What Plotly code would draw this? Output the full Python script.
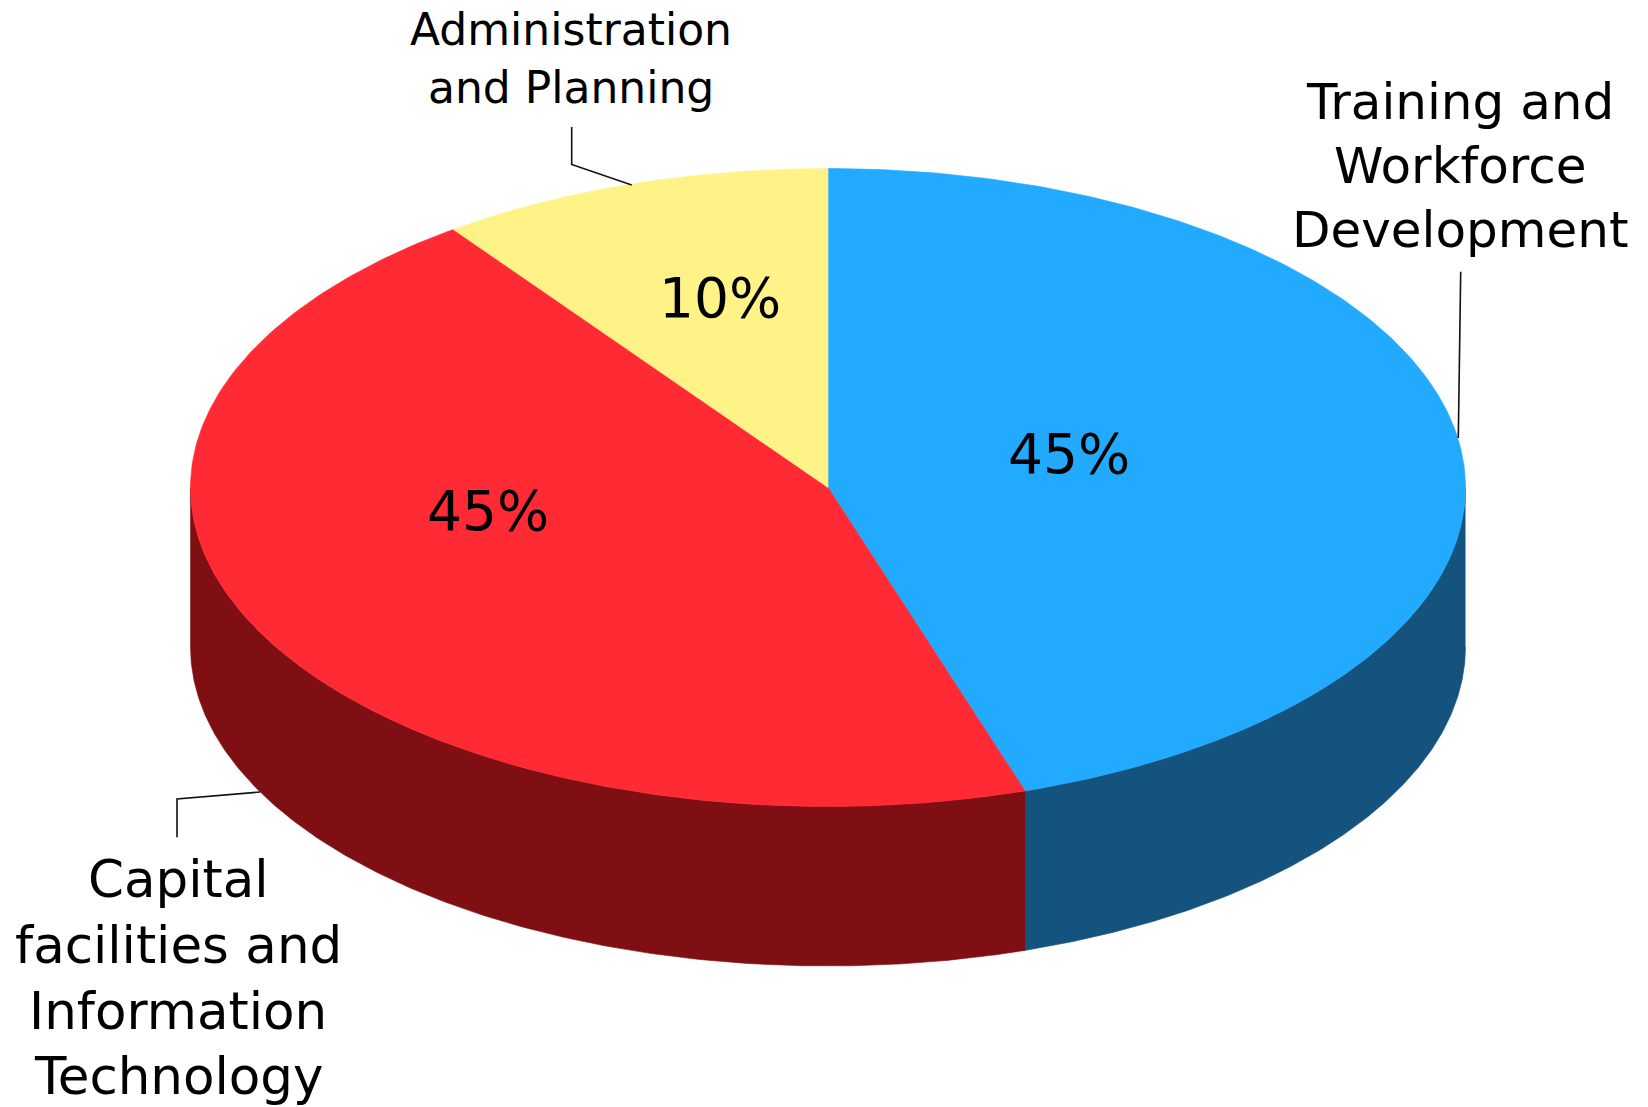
import numpy as np
import plotly.graph_objects as go

# Data
categories = ["Training and Workforce Development",
              "Capital facilities and Information Technology",
              "Administration and Planning"]
shares = [45, 45, 10]
share_labels = ["45%", "45%", "10%"]
top_colors = ["#22AAFF", "#FF2A33", "#FFF387"]
wall_colors = ["#15537F", "#7F0F12", None]

# Geometry of the tilted disc, in page units
CX, CY, RX, RY, DEPTH = 828.0, 487.5, 637.5, 319.0, 159.5


def rim(a0, a1, drop=0.0, n=240):
    """Points on the rim, angles in degrees clockwise from the top."""
    t = np.radians(np.linspace(a0, a1, n))
    return CX + RX * np.sin(t), CY - RY * np.cos(t) + drop


fig = go.Figure()


def polygon(x, y, color, name):
    fig.add_trace(go.Scatter(x=list(x), y=list(y), mode="lines", fill="toself",
                             fillcolor=color, line=dict(width=0.6, color=color),
                             name=name, hoverinfo="name", showlegend=False))


edges = np.cumsum([0] + shares) * 3.6

# side walls: only the front half of the rim (90 to 270 degrees) is visible
for i, name in enumerate(categories):
    lo, hi = max(edges[i], 90), min(edges[i + 1], 270)
    if hi <= lo or wall_colors[i] is None:
        continue
    tx, ty = rim(lo, hi)
    bx, by = rim(hi, lo, DEPTH)
    polygon(np.r_[tx, bx], np.r_[ty, by], wall_colors[i], name)

# top face
for i, name in enumerate(categories):
    x, y = rim(edges[i], edges[i + 1])
    polygon(np.r_[CX, x, CX], np.r_[CY, y, CY], top_colors[i], name)

# leader lines
leaders = [
    ([1460.7, 1458.3], [271.7, 438.0]),
    ([177.0, 177.0, 260.0], [837.3, 799.0, 792.0]),
    ([571.7, 571.7, 631.7], [127.0, 164.5, 185.0]),
]
for lx, ly in leaders:
    fig.add_trace(go.Scatter(x=lx, y=ly, mode="lines", hoverinfo="skip", showlegend=False,
                             line=dict(color="#111111", width=1.6)))

FONT = "DejaVu Sans"
annotations = []


def text(s, x, y, size):
    annotations.append(dict(text=s, x=x, y=y, xref="x", yref="y", showarrow=False,
                            xanchor="center", yanchor="middle",
                            font=dict(family=FONT, size=size, color="#000000")))


# wrapped category labels: line text, x centre, y centre
label_lines = [
    (["Training and", "Workforce", "Development"], 1460, [101.5, 165.5, 229.5], 50),
    (["Capital", "facilities and", "Information", "Technology"], 178, [879, 945, 1011, 1076], 51.5),
    (["Administration", "and Planning"], 570.5, [29, 87], 44),
]
for lines, x, ys, size in label_lines:
    for s, y in zip(lines, ys):
        text(s, x, y, size)

# percentage labels
pct_pos = [(1069, 454), (488, 511), (720, 297.5)]
for s, (x, y) in zip(share_labels, pct_pos):
    text(s, x, y, 55)

fig.update_layout(
    width=1648, height=1107,
    margin=dict(l=0, r=0, t=0, b=0),
    paper_bgcolor="white", plot_bgcolor="white",
    showlegend=False,
    annotations=annotations,
    xaxis=dict(range=[0, 1648], visible=False, fixedrange=True),
    yaxis=dict(range=[1107, 0], visible=False, fixedrange=True),
)
fig.write_html("out.html", post_script="document.body.style.margin='0';",
               config={"displayModeBar": False})
